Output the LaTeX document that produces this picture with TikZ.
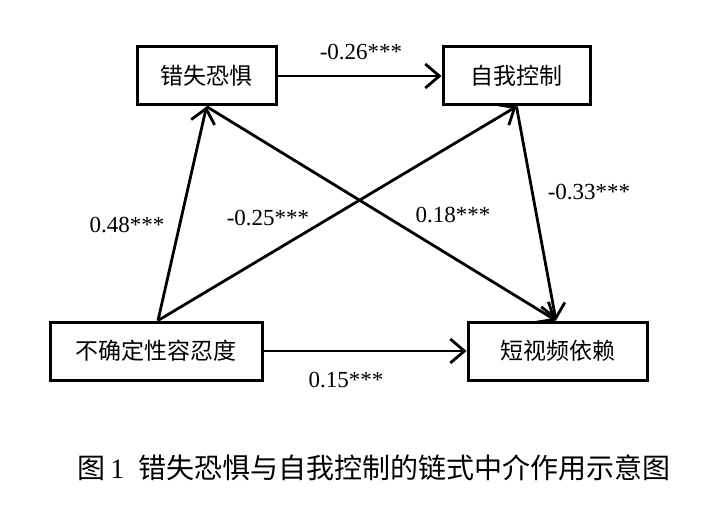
\documentclass[tikz,border=0pt]{standalone}
\usepackage{fontspec}
\setmainfont{Liberation Serif}
\newfontfamily\cjk{Noto Sans CJK SC}
\usetikzlibrary{arrows.meta}
\begin{document}
\begin{tikzpicture}[x=1pt,y=-1pt,
  box/.style={draw, line width=3pt, inner sep=0pt, minimum height=58pt, font=\cjk\fontsize{23}{25}\selectfont},
  conn/.style={line width=2.8pt, -{Straight Barb[length=14pt,width=24pt,line width=2.8pt]}},
  lab/.style={inner sep=0pt, font=\fontsize{23}{25}\selectfont}]
\useasboundingbox[fill=white] (0,0) rectangle (721,511);
\node[box, minimum width=139pt] (fomo) at (206.5,76) {错失恐惧};
\node[box, minimum width=147pt] (self) at (516.5,76) {自我控制};
\node[box, minimum width=212pt] (unc) at (156,351) {不确定性容忍度};
\node[box, minimum width=179pt] (svd) at (557.5,351) {短视频依赖};
\coordinate (uncTop) at ([xshift=2pt]unc.north);
\draw[conn] (fomo.east) -- (self.west);
\draw[conn] (uncTop) -- (fomo.south);
\draw[conn] (uncTop) -- (self.south);
\draw[conn] (fomo.south) -- ([xshift=-1.5pt]svd.north);
\draw[conn] (self.south) -- ([xshift=-1.5pt]svd.north);
\draw[conn] (unc.east) -- (svd.west);
\node[lab] (l1) at (361,52) {-0.26***};
\node[lab] (l2) at (127,225) {0.48***};
\node[lab] (l3) at (268,218) {-0.25***};
\node[lab] (l4) at (453,215) {0.18***};
\node[lab] (l5) at (589,192) {-0.33***};
\node[lab] (l6) at (346,380) {0.15***};
\node[inner sep=0pt, font=\fontsize{28}{30}\selectfont] (cap) at (374,468) {{\cjk 图}\,1\ \ {\cjk 错失恐惧与自我控制的链式中介作用示意图}};
\end{tikzpicture}
\end{document}
